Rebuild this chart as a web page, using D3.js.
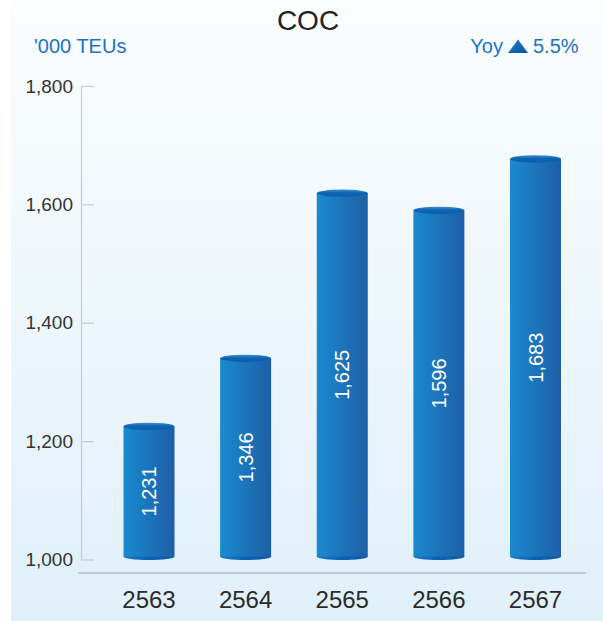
<!DOCTYPE html>
<html>
<head>
<meta charset="utf-8">
<script src="https://cdn.jsdelivr.net/npm/d3@7/dist/d3.min.js"></script>
<style>
  html, body { margin: 0; padding: 0; background: #ffffff; }
  svg { display: block; font-family: "Liberation Sans", Arial, Helvetica, sans-serif; }
</style>
</head>
<body>
<svg id="chart" width="603" height="621"></svg>
<script>
// COC volume by year ('000 TEUs)
const years = ["2563", "2564", "2565", "2566", "2567"];
const volumes = [1231, 1346, 1625, 1596, 1683];
const yTicks = [1000, 1200, 1400, 1600, 1800];
const title = "COC";
const unitLabel = "'000 TEUs";
const yoyLabel = "Yoy";
const yoyValue = "5.5%";

const W = 603, H = 621;
const svg = d3.select("#chart");
const defs = svg.append("defs");

// Panel background: near-white at the top fading to pale blue
const bg = defs.append("linearGradient").attr("id", "bg")
  .attr("x1", 0).attr("y1", 0).attr("x2", 0).attr("y2", 1);
bg.append("stop").attr("offset", "0%").attr("stop-color", "#fbfdfe");
bg.append("stop").attr("offset", "100%").attr("stop-color", "#e0f0f9");

// Cylinder body shading, left to right
const body = defs.append("linearGradient").attr("id", "barBody")
  .attr("x1", 0).attr("y1", 0).attr("x2", 1).attr("y2", 0);
body.append("stop").attr("offset", "0%").attr("stop-color", "#1a8ad0");
body.append("stop").attr("offset", "100%").attr("stop-color", "#1e5ea6");

// Cylinder cap
const cap = defs.append("linearGradient").attr("id", "barCap")
  .attr("x1", 0).attr("y1", 0).attr("x2", 0).attr("y2", 1);
cap.append("stop").attr("offset", "0%").attr("stop-color", "#3d8fd2");
cap.append("stop").attr("offset", "45%").attr("stop-color", "#0c64b4");
cap.append("stop").attr("offset", "100%").attr("stop-color", "#0a5eab");

// Cylinder base
const base = defs.append("linearGradient").attr("id", "barBase")
  .attr("x1", 0).attr("y1", 0).attr("x2", 1).attr("y2", 0);
base.append("stop").attr("offset", "0%").attr("stop-color", "#1a7cc8");
base.append("stop").attr("offset", "50%").attr("stop-color", "#0a62b3");
base.append("stop").attr("offset", "100%").attr("stop-color", "#0d5aa6");

// Triangle marker shading
const tri = defs.append("linearGradient").attr("id", "tri")
  .attr("x1", 0).attr("y1", 0).attr("x2", 1).attr("y2", 1);
tri.append("stop").attr("offset", "0%").attr("stop-color", "#1d7fcf");
tri.append("stop").attr("offset", "100%").attr("stop-color", "#0a4f9e");

svg.append("rect").attr("x", 11).attr("y", 0)
  .attr("width", W - 11).attr("height", H).attr("fill", "url(#bg)");

// Scales
const y = d3.scaleLinear().domain([1000, 1800]).range([559.5, 86]);
const x = d3.scalePoint().domain(years).range([149, 535.5]);
const barW = 51, ry = 3.6;

// Y axis: ticks point into the plot, labels to the left
const axis = svg.append("g").attr("transform", "translate(81,0)")
  .call(d3.axisLeft(y).tickValues(yTicks).tickSizeInner(-13).tickSizeOuter(0)
    .tickPadding(8).tickFormat(d3.format(",")));
axis.select(".domain").attr("stroke", "#c9cccf").attr("stroke-width", 1.2);
axis.selectAll(".tick line").attr("stroke", "#c9cccf").attr("stroke-width", 1.2);
axis.selectAll(".tick text").attr("fill", "#333333")
  .style("font-size", "19px").style("font-family", "Liberation Sans, Arial, sans-serif");

// Baseline under the bars
svg.append("line")
  .attr("x1", 78).attr("x2", 586)
  .attr("y1", 573).attr("y2", 573)
  .attr("stroke", "#c4c8cc").attr("stroke-width", 2);

// Cylinder bars
const data = years.map((yr, i) => ({ year: yr, value: volumes[i] }));
const bars = svg.append("g").selectAll("g.bar").data(data).join("g").attr("class", "bar");

const bottomY = y(1000) - 3;
bars.append("ellipse")
  .attr("cx", d => x(d.year)).attr("cy", bottomY)
  .attr("rx", barW / 2).attr("ry", ry)
  .attr("fill", "url(#barBase)");
bars.append("rect")
  .attr("x", d => x(d.year) - barW / 2)
  .attr("y", d => y(d.value) + ry)
  .attr("width", barW)
  .attr("height", d => bottomY - (y(d.value) + ry))
  .attr("fill", "url(#barBody)");
bars.append("ellipse")
  .attr("cx", d => x(d.year)).attr("cy", d => y(d.value) + ry)
  .attr("rx", barW / 2).attr("ry", ry)
  .attr("fill", "url(#barCap)");

// Value labels, rotated inside each bar
bars.append("text")
  .attr("transform", d => {
    const cy = (y(d.value) + ry + bottomY) / 2;
    return `translate(${x(d.year) + 7},${cy}) rotate(-90)`;
  })
  .attr("text-anchor", "middle")
  .attr("fill", "#ffffff")
  .style("font-size", "20px")
  .text(d => d3.format(",")(d.value));

// Year labels
svg.append("g").selectAll("text").data(years).join("text")
  .attr("x", d => x(d)).attr("y", 608)
  .attr("text-anchor", "middle")
  .attr("fill", "#2b2b2b")
  .style("font-size", "24px")
  .text(d => d);

// Title and header notes
svg.append("text").attr("x", 308).attr("y", 30)
  .attr("text-anchor", "middle").attr("fill", "#222222")
  .style("font-size", "28px").text(title);

svg.append("text").attr("x", 34).attr("y", 53)
  .attr("fill", "#1a73c3").style("font-size", "20px").text(unitLabel);

const yoy = svg.append("g");
yoy.append("text").attr("x", 503).attr("y", 53).attr("text-anchor", "end")
  .attr("fill", "#1a73c3").style("font-size", "20px").text(yoyLabel);
yoy.append("path")
  .attr("d", d3.line()([[508, 53], [518, 39.5], [528, 53]]) + "Z")
  .attr("fill", "url(#tri)");
yoy.append("text").attr("x", 533).attr("y", 53)
  .attr("fill", "#1a73c3").style("font-size", "20px").text(yoyValue);
</script>
</body>
</html>
